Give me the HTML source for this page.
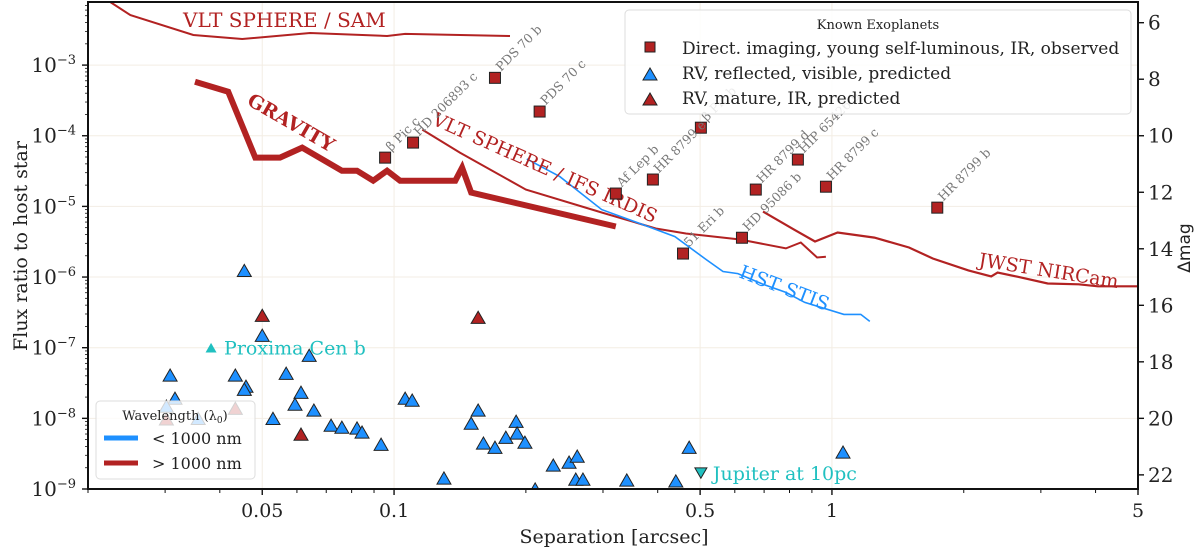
<!DOCTYPE html>
<html><head><meta charset="utf-8"><style>
body{margin:0;background:#fff;}
svg{display:block;font-family:"DejaVu Serif","Liberation Serif",serif;}
</style></head><body>
<svg id="chart" width="1200" height="549" viewBox="0 0 1200 549" xmlns="http://www.w3.org/2000/svg">
<g id="grid"></g><g id="curves"></g><g id="marks"></g><g id="axes"></g><g id="legends"></g>
</svg>
<script>
// ---- data ----
const samSep=[0.0225,0.025,0.0348,0.045,0.0643,0.0964,0.106,0.184];
const samFlux=[7.8e-3,5.1e-3,2.67e-3,2.34e-3,2.85e-3,2.58e-3,2.76e-3,2.58e-3];
const gravSep=[0.0351,0.0418,0.0482,0.0549,0.0617,0.076,0.0823,0.0896,0.0964,0.1032,0.138,0.143,0.150,0.321];
const gravFlux=[5.8e-4,4.2e-4,4.9e-5,4.9e-5,6.8e-5,3.2e-5,3.2e-5,2.31e-5,3.2e-5,2.31e-5,2.31e-5,3.53e-5,1.57e-5,5.2e-6];
const irdisSep=[0.116,0.1415,0.200,0.298,0.396,0.464,0.617,0.785,0.849,0.925,0.969];
const irdisFlux=[1.22e-4,5.75e-5,1.73e-5,8.2e-6,4.86e-6,4.13e-6,3.4e-6,2.54e-6,3.08e-6,1.89e-6,1.94e-6];
const nircSep=[0.696,0.819,0.915,1.03,1.25,1.5,1.7,2.05,2.31,2.39,2.7,3.11,3.66,4.05,5.0];
const nircFlux=[8.45e-6,4.7e-6,3.18e-6,4.27e-6,3.62e-6,2.62e-6,1.83e-6,1.24e-6,1.02e-6,1.16e-6,9.9e-7,8.1e-7,7.9e-7,7.4e-7,7.4e-7];
const stisSep=[0.201,0.239,0.298,0.380,0.438,0.516,0.564,0.610,0.696,0.785,0.867,1.065,1.164,1.22];
const stisFlux=[4.7e-5,2.64e-5,9.0e-6,5.2e-6,3.74e-6,1.77e-6,1.2e-6,1.12e-6,7.9e-7,6.06e-7,4.38e-7,2.96e-7,2.96e-7,2.36e-7];
const diNames=["β Pic c","HD 206893 c","PDS 70 b","PDS 70 c","β Pic b","Af Lep b","HR 8799 e","HR 8799 d","HIP 65426 b","HR 8799 c","HR 8799 b","HD 95086 b","51 Eri b"];
const diSep=[0.0954,0.1105,0.170,0.215,0.502,0.321,0.390,0.670,0.836,0.969,1.74,0.623,0.457];
const diFlux=[4.9e-5,8.0e-5,6.6e-4,2.2e-4,1.3e-4,1.52e-5,2.4e-5,1.73e-5,4.6e-5,1.9e-5,9.6e-6,3.6e-6,2.15e-6];
const rvBlueSep=[0.0455,0.05,0.0308,0.0316,0.0434,0.0459,0.0455,0.0567,0.064,0.0613,0.0594,0.0656,0.0529,0.0718,0.076,0.0823,0.0845,0.0934,0.106,0.110,0.130,0.1556,0.150,0.190,0.160,0.170,0.180,0.191,0.199,0.231,0.251,0.262,0.210,0.260,0.270,0.340,0.440,0.472,1.06,0.0302,0.0357];
const rvBlueFlux=[1.24e-6,1.5e-7,4.1e-8,1.93e-8,4.1e-8,2.85e-8,2.58e-8,4.35e-8,7.8e-8,2.34e-8,1.59e-8,1.31e-8,1.0e-8,8.0e-9,7.5e-9,7.3e-9,6.4e-9,4.3e-9,1.93e-8,1.81e-8,1.43e-9,1.31e-8,8.55e-9,9.1e-9,4.47e-9,3.9e-9,5.4e-9,6.2e-9,4.6e-9,2.18e-9,2.4e-9,2.92e-9,1.0e-9,1.38e-9,1.38e-9,1.34e-9,1.3e-9,3.9e-9,3.33e-9,1.49e-8,1.0e-8];
const rvRedSep=[0.05,0.0613,0.1556,0.0302,0.0434];
const rvRedFlux=[2.87e-7,5.98e-9,2.69e-7,9.8e-9,1.39e-8];
const proximaSep=[0.0382], proximaFlux=[1.0e-7];
const jupiterSep=[0.502], jupiterFlux=[1.68e-9];
const xTickVals=[0.05,0.1,0.5,1,5];
const xTickLabels=["0.05","0.1","0.5","1","5"];
const yTickExps=[-9,-8,-7,-6,-5,-4,-3];
const magTicks=[6,8,10,12,14,16,18,20,22];

// ---- scales ----
const X0=88,X1=1138,Y0=489,Y1=2;
const xmin=Math.log10(0.02),xmax=Math.log10(5),ymin=-9,ymax=-2.107;
function xs(v){return X0+(Math.log10(v)-xmin)/(xmax-xmin)*(X1-X0);}
function ys(v){return Y0-(Math.log10(v)-ymin)/(ymax-ymin)*(Y0-Y1);}
const NS="http://www.w3.org/2000/svg";
function mk(tag,attrs,parent){const e=document.createElementNS(NS,tag);for(const k in attrs)e.setAttribute(k,attrs[k]);parent.appendChild(e);return e;}
const RED="#b22222",BLUE="#1e90ff",TEAL="#20c0c0";
const grid=document.getElementById('grid'),curves=document.getElementById('curves'),marks=document.getElementById('marks'),axes=document.getElementById('axes'),legends=document.getElementById('legends');

const defs=mk('defs',{},document.getElementById('chart'));
const cp=mk('clipPath',{id:'plotclip'},defs);mk('rect',{x:X0,y:Y1,width:X1-X0,height:Y0-Y1},cp);
curves.setAttribute('clip-path','url(#plotclip)');marks.setAttribute('clip-path','url(#plotclip)');

yTickExps.forEach(e=>{const y=ys(Math.pow(10,e));const l=mk('line',{x1:X0,x2:X1,y1:y,y2:y,stroke:'#f3ede4','stroke-width':1},grid);

});
xTickVals.forEach(v=>{const x=xs(v);const l=mk('line',{x1:x,x2:x,y1:Y1,y2:Y0,stroke:'#f3ede4','stroke-width':1},grid);

});

function curve(sep,flux,color,w,name){const d=sep.map((s,i)=>(i?'L':'M')+xs(s).toFixed(1)+','+ys(flux[i]).toFixed(1)).join('');
const p=mk('path',{d:d,fill:'none',stroke:color,'stroke-width':w,'stroke-linejoin':'miter'},curves);

}
curve(samSep,samFlux,RED,2,'sphere-sam-curve');
curve(gravSep,gravFlux,RED,6,'gravity-curve');
curve(irdisSep,irdisFlux,RED,2,'sphere-irdis-curve');
curve(nircSep,nircFlux,RED,2.2,'jwst-nircam-curve');
curve(stisSep,stisFlux,BLUE,1.6,'hst-stis-curve');

function label(txt,x,y,rot,color,size,weight,name){const t=mk('text',{x:x,y:y,fill:color,'font-size':size,'font-weight':weight||'normal',transform:'rotate('+rot+' '+x+' '+y+')'},marks);t.textContent=txt;

return t;}
label('VLT SPHERE / SAM',183,27,0,RED,20,'normal','sam-label');
label('GRAVITY',246,104,30,RED,19,'bold','gravity-label');
label('VLT SPHERE / IFS IRDIS',431,124,24,RED,19,'normal','irdis-label');
label('HST STIS',738,277,21,BLUE,19,'normal','stis-label');
label('JWST NIRCam',978,266,9,RED,19,'normal','nircam-label');

function tri(x,y,s,down){const h=s*0.87;return down?`M${x-s/2},${y-h/2}L${x+s/2},${y-h/2}L${x},${y+h/2}Z`:`M${x-s/2},${y+h/2}L${x+s/2},${y+h/2}L${x},${y-h/2}Z`;}
rvBlueSep.forEach((s,i)=>{const p=mk('path',{d:tri(xs(s),ys(rvBlueFlux[i]),14),fill:BLUE,stroke:'#222','stroke-width':1},marks);

});
rvRedSep.forEach((s,i)=>{const p=mk('path',{d:tri(xs(s),ys(rvRedFlux[i]),14),fill:RED,stroke:'#222','stroke-width':1},marks);

});
diSep.forEach((s,i)=>{const x=xs(s),y=ys(diFlux[i]);const r=mk('rect',{x:x-5.5,y:y-5.5,width:11,height:11,fill:RED,stroke:'#222','stroke-width':1},marks);


const t=mk('text',{x:x+6,y:y-6,fill:'#777','font-size':12.5,transform:`rotate(-45 ${x+6} ${y-6})`},marks);t.textContent=diNames[i];

});
{const x=xs(proximaSep[0]),y=ys(proximaFlux[0]);const p=mk('path',{d:tri(x,y,11),fill:TEAL},marks);


const t=mk('text',{x:x+13,y:y+7,fill:TEAL,'font-size':19},marks);t.textContent='Proxima Cen b';

}
{const x=xs(jupiterSep[0]),y=ys(jupiterFlux[0]);const p=mk('path',{d:tri(x,y,12,true),fill:TEAL,stroke:'#222','stroke-width':1},marks);


const t=mk('text',{x:x+12,y:y+7,fill:TEAL,'font-size':19},marks);t.textContent='Jupiter at 10pc';

}

{const r=mk('rect',{x:X0,y:Y1,width:X1-X0,height:Y0-Y1,fill:'none',stroke:'#111','stroke-width':2},axes);

}
for(let e=-2;e<=0;e++){for(let m=1;m<10;m++){const v=m*Math.pow(10,e);if(v<0.02||v>5)continue;const x=xs(v);const major=xTickVals.indexOf(+v.toPrecision(3))>=0;
const l=mk('line',{x1:x,x2:x,y1:Y0,y2:Y0+(major?6:4),stroke:'#111','stroke-width':major?1.4:1},axes);

}}
xTickVals.forEach((v,i)=>{const t=mk('text',{x:xs(v),y:517,'text-anchor':'middle','font-size':19,fill:'#222'},axes);t.textContent=xTickLabels[i];

});
for(let e=-9;e<=-3;e++){for(let m=1;m<10;m++){const v=m*Math.pow(10,e);const y=ys(v);if(y<Y1)continue;const major=m===1;
const l=mk('line',{x1:X0,x2:X0-(major?6:3),y1:y,y2:y,stroke:'#111','stroke-width':major?1.4:0.8},axes);

}}
yTickExps.forEach(e=>{const y=ys(Math.pow(10,e));const t=mk('text',{x:76,y:y+7,'text-anchor':'end','font-size':20,fill:'#222'},axes);
t.innerHTML='10<tspan dy="-8" font-size="13">−'+(-e)+'</tspan>';

});
magTicks.forEach(m=>{const y=ys(Math.pow(10,-m/2.5));const l=mk('line',{x1:X1,x2:X1+6,y1:y,y2:y,stroke:'#111','stroke-width':1.4},axes);


const t=mk('text',{x:X1+10,y:y+7,'font-size':20,fill:'#222'},axes);t.textContent=m;

});
{const t=mk('text',{x:614,y:543,'text-anchor':'middle','font-size':19,fill:'#222'},axes);t.textContent='Separation [arcsec]';


const t2=mk('text',{x:27,y:246,'text-anchor':'middle','font-size':19,fill:'#222',transform:'rotate(-90 27 246)'},axes);t2.textContent='Flux ratio to host star';


const t3=mk('text',{x:1190,y:248,'text-anchor':'middle','font-size':17,fill:'#222',transform:'rotate(-90 1190 248)',"font-family":"DejaVu Sans, sans-serif"},axes);t3.textContent='Δmag';

}
</script>
<div style="position:absolute;left:0;top:0;width:1200px;height:549px;pointer-events:none">
<svg width="1200" height="549" style="position:absolute;left:0;top:0;font-family:'DejaVu Serif','Liberation Serif',serif">
<g>
<rect x="625" y="10" width="506" height="104" rx="4" fill="#fff" fill-opacity="0.85" stroke="#ddd"/>
<text x="878" y="29" text-anchor="middle" font-size="13" fill="#222">Known Exoplanets</text>
<rect x="645" y="42" width="10" height="10" fill="#b22222" stroke="#222"/>
<text x="682" y="54" font-size="17" fill="#222">Direct. imaging, young self-luminous, IR, observed</text>
<path d="M643,80 L657,80 L650,68 Z" fill="#1e90ff" stroke="#222"/>
<text x="682" y="79" font-size="17" fill="#222">RV, reflected, visible, predicted</text>
<path d="M643,105 L657,105 L650,93 Z" fill="#b22222" stroke="#222"/>
<text x="682" y="104" font-size="17" fill="#222">RV, mature, IR, predicted</text>
</g>
<g>
<rect x="96" y="401" width="159" height="78" rx="4" fill="#fff" fill-opacity="0.8" stroke="#ddd"/>
<text x="175" y="420" text-anchor="middle" font-size="13" fill="#222">Wavelength (λ<tspan font-size="9" dy="3">0</tspan><tspan dy="-3">)</tspan></text>
<line x1="104" x2="138" y1="438" y2="438" stroke="#1e90ff" stroke-width="5"/>
<text x="152" y="444" font-size="16" fill="#222">&lt; 1000 nm</text>
<line x1="104" x2="138" y1="463" y2="463" stroke="#b22222" stroke-width="5"/>
<text x="152" y="469" font-size="16" fill="#222">&gt; 1000 nm</text>
</g>
</svg></div>
</body></html>
